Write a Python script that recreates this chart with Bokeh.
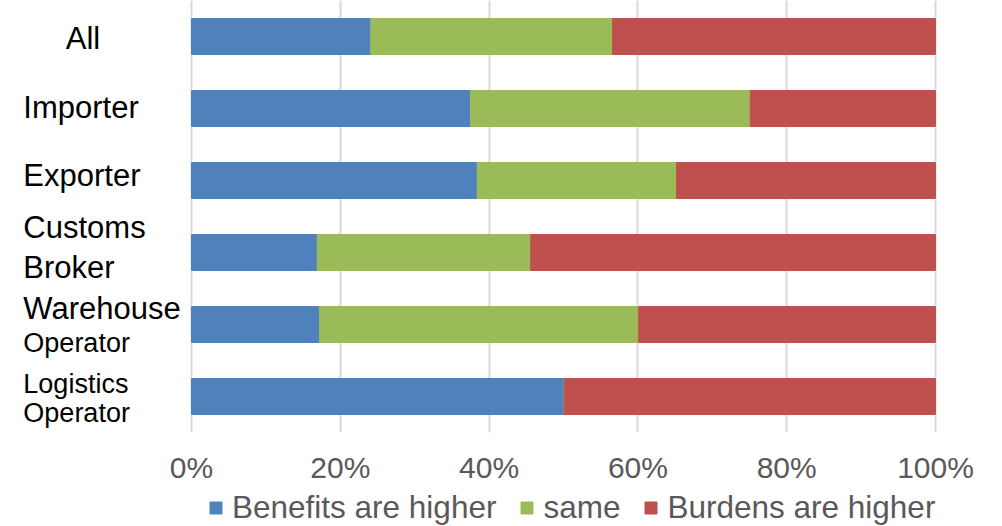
from bokeh.plotting import figure
from bokeh.layouts import column
from bokeh.models import (ColumnDataSource, Range1d, FixedTicker, NumeralTickFormatter,
                          Legend, LegendItem)
from bokeh.core.properties import value
from bokeh.embed import file_html
from bokeh.resources import INLINE

# ---- data ----
categories = ["All", "Importer", "Exporter", "Customs Broker", "Warehouse Operator", "Logistics Operator"]
benefits_higher = [0.241, 0.375, 0.384, 0.169, 0.172, 0.501]
same = [0.325, 0.376, 0.268, 0.287, 0.429, 0.0]
burdens_higher = [0.434, 0.249, 0.348, 0.544, 0.399, 0.499]
series_names = ["Benefits are higher", "same", "Burdens are higher"]
x_ticks = [0.0, 0.2, 0.4, 0.6, 0.8, 1.0]

# category label lines: category index, line text, font size, baseline offset (px)
label_cat = [0, 1, 2, 3, 3, 4, 4, 5, 5]
label_text = ["All", "Importer", "Exporter", "Customs", "Broker", "Warehouse", "Operator", "Logistics", "Operator"]
label_size = ["31px", "31px", "31px", "31px", "31px", "31px", "27px", "27px", "27px"]
label_dy = [2, -1, -5, -25, 15, -16, 18, -13, 16]
label_x = [-0.169, -0.226, -0.226, -0.226, -0.226, -0.226, -0.226, -0.226, -0.226]

colors = ["#4F81BD", "#9BBB59", "#C0504D"]
FONT = "Liberation Sans"

ypos = list(range(len(categories)))
source = ColumnDataSource(dict(y=ypos, b=benefits_higher, s=same, r=burdens_higher))

p = figure(width=986, height=486, output_backend="svg", toolbar_location=None,
           x_range=Range1d(-0.2567, 1.0067), y_range=Range1d(5.5, -0.5),
           min_border_left=0, min_border_right=46, min_border_top=0, min_border_bottom=54)
p.outline_line_color = None
p.background_fill_color = "white"
p.border_fill_color = "white"

rends = p.hbar_stack(["b", "s", "r"], y="y", height=0.5, color=colors, source=source)

# labels for categories
lsrc = ColumnDataSource(dict(x=label_x, y=label_cat, t=label_text, fs=label_size, dy=label_dy))
p.text(x="x", y="y", text="t", source=lsrc, text_font=value(FONT), text_font_size="fs",
       y_offset="dy", text_baseline="alphabetic", text_align="left", text_color="black")

p.yaxis.visible = False
p.ygrid.visible = False
p.xgrid.ticker = FixedTicker(ticks=x_ticks)
p.xgrid.grid_line_color = "#d9d9d9"
p.xgrid.grid_line_width = 2
p.xaxis.ticker = FixedTicker(ticks=x_ticks)
p.xaxis.formatter = NumeralTickFormatter(format="0%")
p.xaxis.axis_line_color = None
p.xaxis.major_tick_line_color = None
p.xaxis.minor_tick_line_color = None
p.xaxis.major_tick_out = 0
p.xaxis.major_tick_in = 0
p.xaxis.major_label_standoff = 18
p.xaxis.major_label_text_font = FONT
p.xaxis.major_label_text_font_size = "30px"
p.xaxis.major_label_text_color = "#595959"

# legend strip below the chart (swatch renderers sit outside the visible range)
p2 = figure(width=986, height=40, output_backend="svg", toolbar_location=None,
            x_range=Range1d(0, 1), y_range=Range1d(0, 1),
            min_border_left=0, min_border_right=0, min_border_top=0, min_border_bottom=0)
p2.axis.visible = False
p2.grid.visible = False
p2.outline_line_color = None
swatch_src = ColumnDataSource(dict(y=[-5], l=[0], r=[0]))
swatches = [p2.hbar(y="y", left="l", right="r", height=0.5, color=c, source=swatch_src) for c in colors]
items = [LegendItem(label=n, renderers=[r]) for n, r in zip(series_names, swatches)]
legend = Legend(items=items, orientation="horizontal", location=(208, 0),
                glyph_width=15, glyph_height=15, label_standoff=9, spacing=23,
                label_text_font=FONT, label_text_font_size="31.5px", label_text_color="#595959",
                border_line_color=None, background_fill_alpha=0, padding=0, margin=0)
p2.add_layout(legend, "center")

open("out.html", "w").write(file_html(column(p, p2, spacing=0), INLINE))
